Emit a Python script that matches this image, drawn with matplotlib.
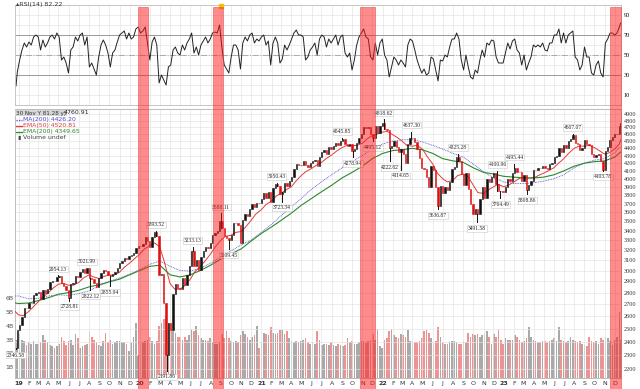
import numpy as np
import pandas as pd
import matplotlib
matplotlib.use('Agg')
import matplotlib.pyplot as plt
import matplotlib.dates as mdates
from matplotlib.patches import Rectangle
from matplotlib.lines import Line2D
from matplotlib.ticker import FixedLocator, NullLocator
from matplotlib.transforms import blended_transform_factory

########## weekly data ($SPX), one value per week
week_dates = pd.DatetimeIndex(['2018-12-24']).append(
    pd.date_range('2018-12-28', '2023-12-15', freq='W-FRI')).append(
    pd.DatetimeIndex(['2023-12-19']))

close_2018 = [2351, 2486]
close_2019 = [2532, 2596, 2671, 2665, 2707, 2708, 2776, 2793, 2804, 2743, 2822, 2800, 2834,
              2893, 2907, 2905, 2940, 2946, 2881, 2860, 2826, 2752, 2873, 2887, 2950, 2942,
              2990, 3014, 2977, 3026, 2932, 2919, 2889, 2847, 2926, 2979, 3007, 2992, 2962,
              2952, 2970, 2986, 3023, 3067, 3093, 3120, 3110, 3141, 3146, 3169, 3221, 3240]
close_2020 = [3235, 3265, 3330, 3295, 3226, 3328, 3380, 3338, 2954, 2972, 2711, 2305, 2541,
              2489, 2790, 2875, 2837, 2831, 2930, 2864, 2955, 3044, 3194, 3041, 3098, 3009,
              3130, 3185, 3225, 3216, 3271, 3351, 3373, 3397, 3508, 3427, 3341, 3319, 3298,
              3348, 3477, 3484, 3465, 3270, 3510, 3585, 3558, 3638, 3699, 3663, 3709, 3703]
close_2021 = [3756, 3824, 3768, 3841, 3714, 3887, 3934, 3907, 3811, 3842, 3943, 3913, 3975,
              4020, 4129, 4185, 4180, 4181, 4233, 4174, 4156, 4204, 4230, 4247, 4166, 4281,
              4352, 4370, 4327, 4412, 4395, 4437, 4468, 4442, 4509, 4535, 4459, 4433, 4455,
              4357, 4391, 4471, 4545, 4605, 4697, 4683, 4698, 4595, 4538, 4712, 4620, 4726, 4766]
close_2022 = [4677, 4663, 4398, 4432, 4501, 4419, 4349, 4385, 4329, 4204, 4463, 4543,
              4546, 4488, 4393, 4272, 4132, 4123, 4024, 3901, 4158, 4109, 3901, 3675, 3912,
              3825, 3899, 3863, 3962, 4130, 4145, 4280, 4228, 4058, 3924, 4067, 3873, 3693, 3586,
              3640, 3583, 3752, 3901, 3771, 3993, 3965, 4026, 4072, 3934, 3852, 3845, 3840]
close_2023 = [3895, 3999, 3973, 4071, 4136, 4090, 4079, 3970, 4046, 3862, 3917, 3971, 4109,
              4105, 4138, 4133, 4169, 4136, 4124, 4192, 4205, 4282, 4299, 4410, 4348, 4450,
              4399, 4505, 4536, 4582, 4478, 4464, 4370, 4406, 4516, 4457, 4450, 4320, 4288,
              4308, 4327, 4224, 4117, 4358, 4415, 4514, 4559, 4595, 4604, 4719, 4768]
closes = np.array(close_2018 + close_2019 + close_2020 + close_2021 + close_2022 + close_2023, float)

rsi_2018 = [19, 33]
rsi_2019 = [45, 55, 62, 58, 63, 60, 68, 70, 68, 55, 65, 58, 62, 68, 70, 66, 72, 68, 45, 48, 42, 32,
            55, 58, 68, 64, 70, 72, 60, 68, 38, 42, 36, 30, 48, 60, 65, 60, 52, 38, 52, 55, 63,
            70, 72, 74, 66, 72, 66, 68, 76, 78]
rsi_2020 = [72, 74, 78, 62, 45, 63, 68, 60, 22, 30, 25, 20, 38, 40, 55, 58, 52, 50, 60, 55, 62, 66,
            72, 52, 58, 50, 60, 64, 68, 62, 66, 72, 73, 72, 80, 58, 40, 36, 32, 48, 60, 60, 55, 36,
            62, 68, 64, 70, 72, 62, 66, 64]
rsi_2021 = [68, 70, 60, 64, 40, 62, 68, 62, 42, 46, 60, 55, 60, 66, 72, 75, 70, 70, 68, 45, 48, 55,
            58, 62, 50, 66, 70, 68, 58, 66, 62, 66, 70, 60, 68, 70, 52, 48, 52, 35, 45, 60, 68, 72,
            76, 68, 66, 48, 45, 62, 50, 62, 66]
rsi_2022 = [50, 45, 28, 38, 48, 45, 40, 45, 42, 38, 60, 66, 64, 55, 45, 38, 32, 36, 30, 32, 48,
            46, 35, 24, 45, 44, 50, 48, 58, 66, 66, 72, 66, 45, 35, 50, 38, 28, 26, 35, 32, 45, 55,
            48, 62, 60, 65, 64, 48, 42, 42, 42]
rsi_2023 = [52, 62, 56, 64, 66, 55, 52, 40, 50, 35, 42, 48, 60, 58, 60, 58, 62, 55, 54, 62, 62,
            70, 70, 76, 62, 72, 62, 70, 72, 74, 48, 45, 35, 40, 58, 48, 48, 32, 30, 40, 44, 32, 28,
            62, 66, 72, 72, 70, 72, 78, 82]
rsi = rsi_2018 + rsi_2019 + rsi_2020 + rsi_2021 + rsi_2022 + rsi_2023

vol_2018 = [2.2, 3.0]
vol_2019 = [3.4, 3.0, 2.9, 2.6, 2.8, 2.7, 2.9, 2.7, 2.7, 2.8, 3.3, 3.0, 2.8, 2.6, 2.5, 2.4, 2.5,
            2.7, 3.2, 2.9, 2.6, 2.9, 3.0, 2.6, 3.4, 3.1, 2.4, 2.5, 2.6, 2.7, 3.6, 3.2, 3.0, 2.8, 2.6,
            2.5, 2.9, 3.5, 2.8, 3.0, 2.7, 2.8, 2.9, 2.9, 2.8, 2.8, 2.7, 2.2, 2.8, 3.2, 4.2, 1.9]
vol_2020 = [2.7, 2.8, 2.9, 3.0, 3.2, 2.9, 2.7, 2.9, 4.0, 4.2, 4.5, 4.8, 4.2, 3.8, 3.6, 3.5, 3.2,
            3.2, 3.0, 3.2, 3.0, 3.3, 3.8, 3.6, 4.0, 3.3, 3.1, 3.0, 3.0, 2.9, 3.1, 2.8, 2.7, 2.7, 2.8,
            3.4, 3.1, 3.6, 3.1, 2.9, 2.8, 2.9, 2.8, 3.3, 3.6, 3.4, 3.2, 3.0, 3.2, 3.3, 4.0, 2.4]
vol_2021 = [2.8, 3.5, 3.4, 3.3, 3.9, 3.5, 3.4, 3.5, 3.7, 3.7, 3.4, 3.6, 3.1, 2.9, 2.8, 2.9, 2.8,
            2.9, 3.0, 3.1, 2.8, 2.7, 2.8, 2.7, 3.6, 3.0, 2.6, 2.7, 2.7, 2.6, 2.8, 2.6, 2.5, 2.7, 2.6,
            2.5, 2.6, 3.1, 2.8, 2.9, 2.7, 2.7, 2.8, 2.9, 2.9, 2.8, 2.9, 3.0, 3.4, 3.0, 3.8, 2.5, 2.4]
vol_2022 = [3.0, 3.1, 3.6, 3.8, 3.3, 3.2, 3.1, 3.4, 3.3, 3.2, 3.7, 2.9, 2.9, 2.8, 2.8, 2.9, 3.1,
            3.6, 3.7, 3.5, 3.1, 2.8, 2.9, 3.9, 3.2, 2.8, 2.7, 2.7, 2.8, 2.9, 2.9, 2.8, 2.7, 2.7,
            2.9, 2.8, 3.5, 3.2, 3.4, 3.3, 3.4, 3.2, 3.3, 3.5, 3.6, 3.2, 2.7, 3.4, 3.2, 3.7, 3.0, 2.7]
vol_2023 = [3.1, 3.0, 3.0, 3.0, 3.3, 3.2, 3.0, 2.8, 2.9, 3.1, 3.9, 3.2, 3.0, 2.9, 2.8, 2.8, 2.9,
            2.9, 2.8, 2.9, 3.0, 3.1, 2.9, 3.9, 3.0, 2.9, 2.8, 2.9, 3.2, 3.0, 2.9, 2.8, 2.9, 2.7,
            2.6, 2.5, 3.2, 2.9, 2.8, 2.9, 2.7, 3.1, 3.0, 3.2, 3.1, 2.9, 2.6, 3.0, 3.2, 5.0, 3.0]
volume = np.array(vol_2018 + vol_2019 + vol_2020 + vol_2021 + vol_2022 + vol_2023) * 1e9

########## moving averages
ma200_dates = pd.DatetimeIndex(['2018-12-21']).append(
    pd.date_range('2019-01-01', '2023-12-01', freq='MS')).append(pd.DatetimeIndex(['2023-12-19']))
ma200 = [2770,
         2770, 2745, 2750, 2770, 2780, 2775, 2790, 2815, 2860, 2900, 2930, 2965,
         3010, 3060, 3090, 3040, 3000, 2995, 3020, 3070, 3130, 3190, 3250, 3300,
         3380, 3470, 3560, 3660, 3760, 3870, 3960, 4050, 4140, 4220, 4300, 4390,
         4460, 4500, 4520, 4520, 4490, 4440, 4390, 4330, 4280, 4190, 4090, 4010,
         3960, 3940, 3940, 3950, 3970, 4000, 4050, 4140, 4200, 4240, 4260, 4340,
         4426]
ema200 = [2710,
          2705, 2710, 2730, 2755, 2785, 2800, 2820, 2850, 2870, 2895, 2920, 2960,
          3000, 3040, 3050, 2960, 2940, 2960, 3000, 3050, 3110, 3160, 3210, 3290,
          3370, 3440, 3510, 3590, 3680, 3760, 3840, 3920, 4010, 4080, 4160, 4260,
          4330, 4370, 4380, 4400, 4380, 4330, 4260, 4230, 4210, 4140, 4080, 4060,
          4030, 4020, 4010, 4010, 4020, 4050, 4100, 4160, 4200, 4220, 4230, 4280,
          4350]
ema50_dates = pd.DatetimeIndex(['2018-12-21']).append(
    pd.date_range('2019-01-01', '2023-12-15', freq='SMS')).append(pd.DatetimeIndex(['2023-12-19']))
ema50 = [2640,
         2610, 2605, 2640, 2680, 2720, 2760, 2800, 2840, 2875, 2880, 2865, 2865,
         2890, 2930, 2960, 2940, 2925, 2945, 2960, 2955, 2985, 3030, 3070, 3110,
         3160, 3210, 3245, 3270, 3230, 3080, 2880, 2830, 2830, 2860, 2920, 2990,
         3040, 3090, 3160, 3230, 3300, 3340, 3350, 3380, 3390, 3440, 3510, 3580,
         3630, 3690, 3730, 3790, 3820, 3860, 3900, 3970, 4040, 4090, 4130, 4170,
         4210, 4260, 4310, 4360, 4410, 4440, 4440, 4440, 4470, 4530, 4580, 4600,
         4630, 4640, 4590, 4550, 4500, 4440, 4430, 4440, 4390, 4290, 4190, 4070,
         4000, 3960, 3980, 4040, 4060, 4030, 3920, 3830, 3820, 3860, 3900, 3930,
         3900, 3920, 3960, 4000, 4020, 4010, 4010, 4040, 4070, 4100, 4140, 4200,
         4260, 4330, 4400, 4430, 4430, 4440, 4410, 4370, 4320, 4340, 4390, 4460,
         4520]

########## labelled highs / lows
label_dates = ['2018-12-24', '2019-04-30', '2019-06-03', '2019-07-26', '2019-08-05', '2019-10-03',
               '2020-02-19', '2020-03-23', '2020-06-08', '2020-09-02', '2020-09-24', '2021-02-16',
               '2021-03-04', '2021-09-02', '2021-10-04', '2022-01-04', '2021-12-03', '2022-01-24',
               '2022-03-29', '2022-02-24', '2022-06-17', '2022-08-16', '2022-10-13', '2022-12-13',
               '2022-12-22', '2023-02-02', '2023-03-13', '2023-07-27', '2023-10-27']
label_values = [2346.58, 2954.13, 2728.81, 3021.99, 2822.12, 2855.94, 3393.52, 2191.86, 3233.13,
                3588.11, 3209.45, 3950.43, 3723.34, 4545.85, 4278.94, 4818.62, 4495.12, 4222.62,
                4637.30, 4114.65, 3636.87, 4325.28, 3491.58, 4100.96, 3764.49, 4195.44, 3808.86,
                4607.07, 4103.78]
label_above = [0, 1, 0, 1, 0, 0, 1, 0, 1, 1, 0, 1, 0, 1, 0, 1, 0, 0, 1, 0, 0, 1, 0, 1, 0, 1, 0, 1, 0]

########## highlighted periods
band_start = ['2019-12-26', '2020-08-09', '2021-10-24', '2023-11-16']
band_end = ['2020-01-27', '2020-09-07', '2021-12-08', '2023-12-20']

legend_text = ['MA(200) 4426.20', 'EMA(50) 4520.81', 'EMA(200) 4349.65', 'Volume undef']

###########################################################################
W, H = 640, 389
fig = plt.figure(figsize=(W / 100, H / 100), dpi=100)
def rect(x0, y0, x1, y1):
    return [x0 / W, 1 - y1 / H, (x1 - x0) / W, (y1 - y0) / H]

ax_rsi = fig.add_axes(rect(15, 5, 621, 105))
ax_vol = fig.add_axes(rect(15, 109, 621, 378))
ax = fig.add_axes(rect(15, 109, 621, 378), sharex=ax_vol)
ax.patch.set_visible(False)

serif = 'Liberation Serif'
xd = mdates.date2num(week_dates)
x0, x1 = mdates.date2num(pd.Timestamp('2018-12-21')), mdates.date2num(pd.Timestamp('2023-12-20'))
months = mdates.date2num(pd.date_range('2019-01-01', '2023-12-01', freq='MS'))
grid_c = '#e4e4e4'

#### RSI panel
ax_rsi.plot(xd, rsi, color='#222222', lw=0.7)
for lev, ls, c in [(70, '-', '#9a9a9a'), (30, '-', '#9a9a9a'), (50, '-.', '#aaaaaa')]:
    ax_rsi.axhline(lev, color=c, lw=0.7, ls=ls, zorder=1)
ax_rsi.set_ylim(0, 100)
ax_rsi.set_xlim(x0, x1)
ax_rsi.yaxis.tick_right()
ax_rsi.set_yticks([10, 30, 50, 70, 90])
ax_rsi.yaxis.set_minor_locator(FixedLocator(range(10, 100, 10)))
ax_rsi.set_xticks(months)
ax_rsi.set_xticklabels([])
ax_rsi.grid(True, which='both', color=grid_c, lw=0.5)
ax_rsi.set_axisbelow(True)
ax_rsi.tick_params(length=0, labelsize=4.5, pad=2, which='both')
for t in ax_rsi.get_yticklabels():
    t.set_fontfamily(serif)
ax_rsi.plot([mdates.date2num(pd.Timestamp('2020-09-02'))], [99], 's', ms=2.2,
            color='#f5c000', clip_on=False, zorder=5)
fig.text(16 / W, 1 - 4.5 / H, '\u25b4RSI(14) 82.22', fontsize=4.6, va='center', color='#333333')

#### volume
up = np.r_[True, closes[1:] >= closes[:-1]]
vcol = np.where(up, '#a9a9a9', '#ec9494')
ax_vol.bar(xd, volume, width=5, color=vcol, lw=0)
ax_vol.set_ylim(0.217e9, 19.7e9)
ax_vol.set_yticks(np.arange(1, 7) * 1e9)
ax_vol.set_yticklabels(['%dB' % v for v in range(1, 7)])
ax_vol.tick_params(length=0, labelsize=4.5, pad=1, labelcolor='#555555')
ax_vol.tick_params(axis='x', labelbottom=False)

#### price candles (body from previous close to close)
o = closes[:-1]
c = closes[1:]
ccol = np.where(c >= o, '#111111', '#e01010')
ax.bar(xd[1:], np.abs(c - o), bottom=np.minimum(o, c), width=4, color=ccol,
       edgecolor=ccol, lw=0.4, zorder=4)
# wicks to the labelled extremes
for d, v in zip(label_dates, label_values):
    xv = mdates.date2num(pd.Timestamp(d))
    i = int(np.argmin(np.abs(xd - xv)))
    ax.plot([xv, xv], [v, closes[i]], color='#111111', lw=0.7, zorder=4)

ax.plot(mdates.date2num(ma200_dates), ma200, color='#4a4ad0', lw=0.6, ls=(0, (1, 1)), zorder=3)
ax.plot(mdates.date2num(ema50_dates), ema50, color='#e23a3a', lw=0.7, zorder=3)
ax.plot(mdates.date2num(ma200_dates), ema200, color='#2a8a2a', lw=0.8, zorder=3)

for d, v, a in zip(label_dates, label_values, label_above):
    ax.annotate('%.2f' % v, (mdates.date2num(pd.Timestamp(d)), v),
                xytext=(0, 4.5 if a else -4.5), textcoords='offset points',
                ha='center', va='center', fontsize=4, fontfamily=serif, color='#222222',
                bbox=dict(boxstyle='square,pad=0.12', fc='white', ec='#c8c8c8', lw=0.4),
                annotation_clip=False, zorder=6)

ax.set_yscale('log')
ax.set_ylim(2142, 4977)
ax.set_xlim(x0, x1)
ax.yaxis.tick_right()
ax.yaxis.set_major_locator(FixedLocator(range(2200, 5000, 100)))
ax.yaxis.set_minor_locator(NullLocator())
ax.set_yticklabels([str(v) for v in range(2200, 5000, 100)])
ax.set_xticks(months)
mlabels = []
for m in pd.date_range('2019-01-01', '2023-12-01', freq='MS'):
    mlabels.append(m.strftime('%y') if m.month == 1 else 'JFMAMJJASOND'[m.month - 1])
ax.set_xticklabels(mlabels)
for t, m in zip(ax.get_xticklabels(), pd.date_range('2019-01-01', '2023-12-01', freq='MS')):
    if m.month == 1:
        t.set_fontweight('bold')
ax.tick_params(length=0, labelsize=4.5, pad=2, labelcolor='#333333')
for t in ax.get_yticklabels():
    t.set_fontfamily(serif)
ax.grid(True, color=grid_c, lw=0.5, zorder=0)
ax.set_axisbelow(True)

for a in (ax_rsi, ax_vol, ax):
    for s in a.spines.values():
        s.set_color('#bdbdbd')
        s.set_linewidth(0.6)

#### legend block
fig.text(16 / W, 1 - 113 / H, '30 Nov Y 81.28 y)', fontsize=4.1, va='center', color='#333333',
         bbox=dict(boxstyle='square,pad=0.15', fc='#d6d6d6', ec='none'))
fig.text(64 / W, 1 - 113 / H, '4760.91', fontsize=4.5, va='center', color='#222222')
leg_colors = ['#4a4ad0', '#e23a3a', '#2a8a2a', '#444444']
leg_styles = [(0, (1, 1)), '-', '-', '-']
for k, (txt, col, ls) in enumerate(zip(legend_text, leg_colors, leg_styles)):
    yy = 1 - (119.5 + 6 * k) / H
    if k < 3:
        fig.add_artist(Line2D([16 / W, 22 / W], [yy, yy], color=col, lw=0.9, ls=ls))
    else:
        fig.text(16 / W, yy, '\u2590\u258c', fontsize=3, va='center', color=col)
    fig.text(23 / W, yy, txt, fontsize=4.4, va='center', color=col)

#### highlighted bands over everything
tr = blended_transform_factory(ax.transData, fig.transFigure)
for s, e in zip(band_start, band_end):
    xs = mdates.date2num(pd.Timestamp(s))
    xe = mdates.date2num(pd.Timestamp(e))
    fig.add_artist(Rectangle((xs, 0), xe - xs, 1 - 7 / H, transform=tr,
                             fc=(1, 0.1, 0.1, 0.5), ec=(0.9, 0.3, 0.3, 0.8), lw=0.5, zorder=10))

fig.savefig('out.png', dpi=100)
plt.close()
